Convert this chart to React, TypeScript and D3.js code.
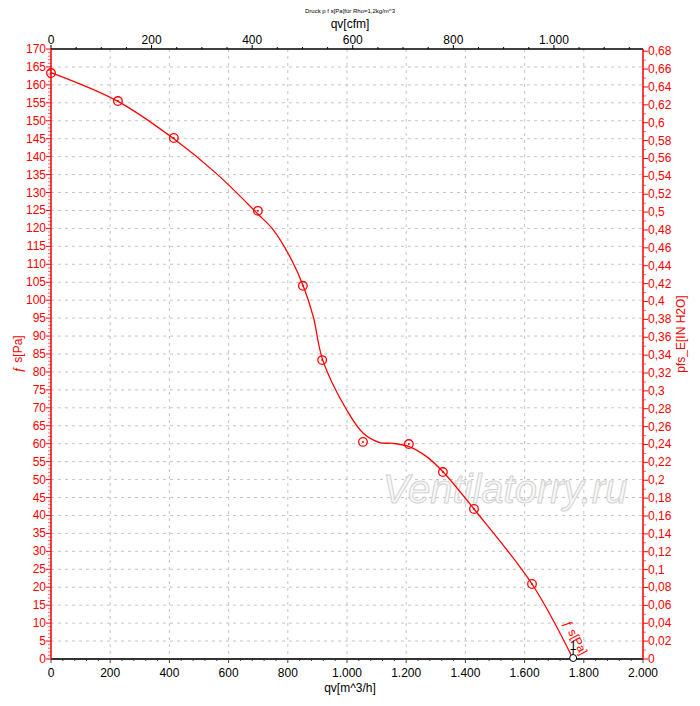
import React, { useEffect, useRef } from "react";
import * as d3 from "d3";

// measured points (q in m^3/h, p in Pa)
const pointQ = [0, 226, 415, 699, 851, 916, 1054, 1209, 1324, 1429, 1625];
const pointP = [163.3, 155.5, 145.2, 124.9, 104.0, 83.3, 60.5, 59.9, 52.1, 41.8, 20.9];

// fitted characteristic curve
const curveQ = [0, 226, 416, 560, 699, 751, 813, 852, 886, 918, 999, 1055, 1111, 1156, 1210, 1269, 1325, 1429, 1625, 1764];
const curveP = [163.4, 155.4, 144.9, 135.2, 124.0, 119.6, 111.2, 104.0, 95.4, 83.3, 69.4, 62.9, 60.3, 60.1, 59.2, 56.4, 52.1, 41.8, 20.9, 0];

// operating point
const opQ = [1764];
const opP = [0];
const opLabel = ["1"];

const bottomTicks = [0, 200, 400, 600, 800, 1000, 1200, 1400, 1600, 1800, 2000];
const topTicks = [0, 200, 400, 600, 800, 1000];

const M3H_PER_CFM = 1.69901;
const PA_PER_INH2O = 249.0889;

const RED = "#ff0000";
const FONT = "'Liberation Sans', Arial, sans-serif";

const fmtDe = (v: number) => {
  const s = d3.format(",~")(v);
  return s.replace(/,/g, "#").replace(/\./g, ",").replace(/#/g, ".");
};

const App: React.FC = () => {
  const ref = useRef<SVGSVGElement | null>(null);

  useEffect(() => {
    const width = 700;
    const height = 706;
    const left = 51;
    const right = 643;
    const top = 49;
    const bottom = 659;

    d3.select(ref.current).selectAll("*").remove();
    const svg = d3
      .select(ref.current)
      .attr("width", width)
      .attr("height", height)
      .style("font-family", FONT);

    svg.append("rect").attr("width", width).attr("height", height).attr("fill", "#fff");

    // Scales
    const x = d3.scaleLinear().domain([0, 2000]).range([left, right]);
    const xCfm = d3.scaleLinear().domain([0, 2000 / M3H_PER_CFM]).range([left, right]);
    const y = d3.scaleLinear().domain([0, 170]).range([bottom, top]);
    const yIn = d3.scaleLinear().domain([0, 170 / PA_PER_INH2O]).range([bottom, top]);

    // Grid
    const grid = svg.append("g").attr("stroke", "#c4c4c4").attr("stroke-dasharray", "3,4");
    d3.range(5, 170, 5).forEach((p) => {
      grid.append("line").attr("x1", left).attr("x2", right).attr("y1", y(p)).attr("y2", y(p));
    });
    bottomTicks.slice(1, -1).forEach((q) => {
      grid.append("line").attr("x1", x(q)).attr("x2", x(q)).attr("y1", top).attr("y2", bottom);
    });

    // Watermark
    svg
      .append("text")
      .attr("x", 505)
      .attr("y", 503)
      .attr("text-anchor", "middle")
      .style("font-size", "40px")
      .style("font-style", "italic")
      .attr("fill", "#f8f8f8")
      .attr("stroke", "#d2d2d2")
      .attr("stroke-width", 1)
      .text("Ventilatorry.ru");

    // Top axis (cfm)
    const topAxis = svg.append("g");
    d3.range(0, 2000 / M3H_PER_CFM, 50).forEach((c) => {
      const major = c % 200 === 0;
      topAxis
        .append("line")
        .attr("x1", xCfm(c))
        .attr("x2", xCfm(c))
        .attr("y1", top)
        .attr("y2", top - (major ? 4 : 2))
        .attr("stroke", "#000");
    });
    topTicks.forEach((c) => {
      topAxis
        .append("text")
        .attr("x", xCfm(c))
        .attr("y", top - 5)
        .attr("text-anchor", "middle")
        .style("font-size", "12px")
        .text(fmtDe(c));
    });
    topAxis
      .append("line")
      .attr("x1", left)
      .attr("x2", right)
      .attr("y1", top)
      .attr("y2", top)
      .attr("stroke", "#000")
      .attr("stroke-width", 1.5);
    svg
      .append("text")
      .attr("x", 350)
      .attr("y", 28)
      .attr("text-anchor", "middle")
      .style("font-size", "12px")
      .text("qv[cfm]");

    // Bottom axis (m^3/h)
    const botAxis = svg.append("g");
    d3.range(0, 2001, 40).forEach((q) => {
      const major = q % 200 === 0;
      botAxis
        .append("line")
        .attr("x1", x(q))
        .attr("x2", x(q))
        .attr("y1", bottom)
        .attr("y2", bottom + (major ? 4 : 2))
        .attr("stroke", "#444");
    });
    bottomTicks.forEach((q) => {
      botAxis
        .append("text")
        .attr("x", x(q))
        .attr("y", bottom + 18)
        .attr("text-anchor", "middle")
        .style("font-size", "12px")
        .text(fmtDe(q));
    });
    botAxis
      .append("line")
      .attr("x1", left)
      .attr("x2", right)
      .attr("y1", bottom)
      .attr("y2", bottom)
      .attr("stroke", "#333")
      .attr("stroke-width", 2);
    svg
      .append("text")
      .attr("x", 350)
      .attr("y", 692)
      .attr("text-anchor", "middle")
      .style("font-size", "12px")
      .text("qv[m^3/h]");

    // Left axis (Pa)
    const leftAxis = svg.append("g");
    d3.range(0, 171, 1).forEach((p) => {
      const major = p % 5 === 0;
      leftAxis
        .append("line")
        .attr("x1", left)
        .attr("x2", left - (major ? 5 : 3))
        .attr("y1", y(p))
        .attr("y2", y(p))
        .attr("stroke", RED)
        .attr("opacity", major ? 1 : 0.6);
    });
    d3.range(0, 171, 5).forEach((p) => {
      leftAxis
        .append("text")
        .attr("x", left - 5)
        .attr("y", y(p) + 4)
        .attr("text-anchor", "end")
        .attr("fill", RED)
        .style("font-size", "12px")
        .text(String(p));
    });
    leftAxis
      .append("line")
      .attr("x1", left)
      .attr("x2", left)
      .attr("y1", top)
      .attr("y2", bottom)
      .attr("stroke", RED)
      .attr("stroke-width", 2)
      .attr("opacity", 0.75);
    svg
      .append("text")
      .attr("transform", `translate(22,${(top + bottom) / 2}) rotate(-90)`)
      .attr("text-anchor", "middle")
      .attr("fill", RED)
      .style("font-size", "12px")
      .text("ƒ s[Pa]");

    // Right axis (in H2O)
    const rightAxis = svg.append("g");
    d3.range(0, 68.5, 1).forEach((i) => {
      const v = i / 100;
      const major = i % 2 === 0;
      rightAxis
        .append("line")
        .attr("x1", right)
        .attr("x2", right + (major ? 5 : 3))
        .attr("y1", yIn(v))
        .attr("y2", yIn(v))
        .attr("stroke", RED)
        .attr("opacity", major ? 1 : 0.6);
    });
    d3.range(0, 68.5, 2).forEach((i) => {
      rightAxis
        .append("text")
        .attr("x", right + 5)
        .attr("y", yIn(i / 100) + 4)
        .attr("fill", RED)
        .style("font-size", "12px")
        .text(fmtDe(i / 100));
    });
    rightAxis
      .append("line")
      .attr("x1", right)
      .attr("x2", right)
      .attr("y1", top)
      .attr("y2", bottom)
      .attr("stroke", RED)
      .attr("stroke-width", 2)
      .attr("opacity", 0.75);
    svg
      .append("text")
      .attr("transform", `translate(685,${(top + bottom) / 2 - 20}) rotate(-90)`)
      .attr("text-anchor", "middle")
      .attr("fill", RED)
      .style("font-size", "12px")
      .text("pfs_E[IN H2O]");

    // Title
    svg
      .append("text")
      .attr("x", 350)
      .attr("y", 13)
      .attr("text-anchor", "middle")
      .style("font-size", "6px")
      .text("Druck p f s[Pa]für Rho=1,2kg/m^3");

    // Curve
    const curve = curveQ.map((q, i) => [q, curveP[i]] as [number, number]);
    const line = d3
      .line<[number, number]>()
      .x((d) => x(d[0]))
      .y((d) => y(d[1]))
      .curve(d3.curveCatmullRom.alpha(0.5));
    svg
      .append("path")
      .attr("d", line(curve) ?? "")
      .attr("fill", "none")
      .attr("stroke", RED)
      .attr("stroke-width", 1.3);

    // Markers
    pointQ.forEach((q, i) => {
      svg
        .append("circle")
        .attr("cx", x(q))
        .attr("cy", y(pointP[i]))
        .attr("r", 4.3)
        .attr("fill", "none")
        .attr("stroke", RED)
        .attr("stroke-width", 1.3);
      svg
        .append("circle")
        .attr("cx", x(q))
        .attr("cy", y(pointP[i]))
        .attr("r", 1)
        .attr("fill", RED);
    });

    // Curve label along the end
    const endQ = curveQ[curveQ.length - 1];
    svg
      .append("text")
      .attr("transform", `translate(${x(endQ) - 10},${y(0) - 36}) rotate(62)`)
      .attr("fill", RED)
      .style("font-size", "12px")
      .text("ƒ s[Pa]");

    // Operating point
    opQ.forEach((q, i) => {
      svg
        .append("line")
        .attr("x1", x(q))
        .attr("x2", x(q))
        .attr("y1", y(opP[i]) - 3)
        .attr("y2", y(opP[i]) - 10)
        .attr("stroke", "#000");
      svg
        .append("circle")
        .attr("cx", x(q))
        .attr("cy", y(opP[i]) - 1)
        .attr("r", 3.5)
        .attr("fill", "#fff")
        .attr("stroke", "#000");
      svg
        .append("text")
        .attr("x", x(q))
        .attr("y", y(opP[i]) - 9)
        .attr("text-anchor", "middle")
        .style("font-size", "12px")
        .text(opLabel[i]);
    });
  }, []);

  return <svg ref={ref} style={{ position: "absolute", left: 0, top: 0 }}></svg>;
};

export default App;
